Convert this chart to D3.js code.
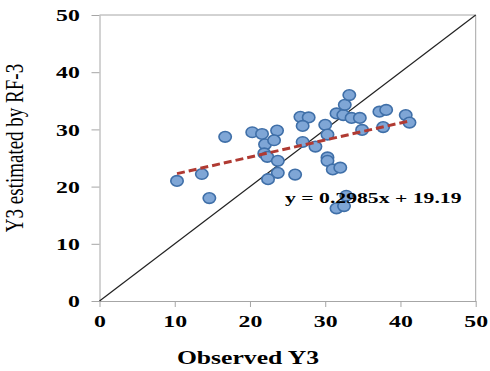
<!DOCTYPE html>
<html>
<head>
<meta charset="utf-8">
<script src="https://cdn.jsdelivr.net/npm/d3@7"></script>
<style>
  html, body { margin: 0; padding: 0; background: #fff; }
  svg { display: block; }
</style>
</head>
<body>
<svg id="chart" width="490" height="371"></svg>
<script>
// Observed values and RF-3 estimates for Y3
const observed = [10.3, 13.6, 14.6, 16.7, 20.3, 21.6, 23.6, 22.0, 23.2, 21.9, 22.3, 23.7, 23.7, 22.4,
  26.0, 26.7, 27.8, 27.0, 27.0, 28.7, 30.0, 30.3, 30.3, 30.3, 31.0, 32.0, 31.5, 32.4, 32.6, 33.2,
  33.5, 34.6, 34.9, 37.2, 38.1, 37.7, 40.7, 41.2, 32.8, 31.5, 32.5];
const estimated = [21.0, 22.2, 18.0, 28.7, 29.5, 29.2, 29.8, 27.4, 28.1, 25.8, 25.2, 24.5, 22.4, 21.3,
  22.1, 32.2, 32.1, 30.6, 27.8, 27.0, 30.8, 29.1, 25.1, 24.5, 23.0, 23.3, 32.8, 32.5, 34.3, 36.0,
  32.0, 32.0, 29.9, 33.1, 33.4, 30.4, 32.5, 31.2, 18.4, 16.2, 16.6];
const xTicks = [0, 10, 20, 30, 40, 50];
const yTicks = [0, 10, 20, 30, 40, 50];
const slope = 0.2985;
const intercept = 19.19;
const equationLabel = "y = 0.2985x + 19.19";

const points = observed.map((v, i) => ({ x: v, y: estimated[i] }));
const svg = d3.select("#chart");
const serif = "'Liberation Serif', 'Times New Roman', serif";
const stretch = 1.4;

const x = d3.scaleLinear().domain([0, 50]).range([99.5, 475.7]);
const y = d3.scaleLinear().domain([0, 50]).range([301, 15]);

// frame: top and right edges
svg.append("line").attr("x1", x(0)).attr("x2", x(50)).attr("y1", y(50)).attr("y2", y(50))
  .attr("stroke", "#a6a6a6").attr("stroke-width", 1);
svg.append("line").attr("x1", x(50)).attr("x2", x(50)).attr("y1", y(0)).attr("y2", y(50))
  .attr("stroke", "#a6a6a6").attr("stroke-width", 1);

// axes
const gx = svg.append("g").attr("transform", `translate(0,${y(0)})`)
  .call(d3.axisBottom(x).tickValues(xTicks).tickSize(6).tickSizeOuter(0).tickPadding(8));
const gy = svg.append("g").attr("transform", `translate(${x(0)},0)`)
  .call(d3.axisLeft(y).tickValues(yTicks).tickSize(8).tickSizeOuter(0).tickPadding(6));

[gx, gy].forEach(g => {
  g.select(".domain").attr("stroke", "#a6a6a6");
  g.selectAll(".tick line").attr("stroke", "#a6a6a6");
  g.selectAll(".tick text")
    .attr("fill", "#000")
    .style("font-family", serif)
    .style("font-weight", "bold")
    .style("font-size", "17px")
    .attr("transform", `scale(${stretch},1)`);
});
gy.selectAll(".tick text").attr("dy", "0.34em");

// 1:1 reference line
svg.append("line")
  .attr("x1", x(0)).attr("y1", y(0)).attr("x2", x(50)).attr("y2", y(50))
  .attr("stroke", "#222").attr("stroke-width", 1.2);

// points
svg.append("g").selectAll("ellipse").data(points).join("ellipse")
  .attr("cx", d => x(d.x)).attr("cy", d => y(d.y))
  .attr("rx", 6.2).attr("ry", 5.3)
  .attr("fill", "#7fa6d6").attr("stroke", "#3f6fa8").attr("stroke-width", 1.6);

// linear fit
const xMin = d3.min(observed), xMax = d3.max(observed);
svg.append("line")
  .attr("x1", x(xMin)).attr("y1", y(slope * xMin + intercept))
  .attr("x2", x(xMax)).attr("y2", y(slope * xMax + intercept))
  .attr("stroke", "#b03a32").attr("stroke-width", 3)
  .attr("stroke-dasharray", "8,4");

// equation
svg.append("text")
  .attr("transform", `translate(285,203) scale(${stretch},1)`)
  .style("font-family", serif).style("font-weight", "bold").style("font-size", "15.5px")
  .attr("fill", "#000")
  .text(equationLabel);

// axis titles
svg.append("text")
  .attr("transform", `translate(248,364) scale(1.35,1)`)
  .attr("text-anchor", "middle")
  .style("font-family", serif).style("font-weight", "bold").style("font-size", "19px")
  .attr("fill", "#000")
  .text("Observed Y3");

svg.append("text")
  .attr("transform", `translate(23,148) rotate(-90) scale(1,1.35)`)
  .attr("text-anchor", "middle")
  .style("font-family", serif).style("font-size", "19px")
  .attr("fill", "#000")
  .text("Y3 estimated by RF-3");
</script>
</body>
</html>
